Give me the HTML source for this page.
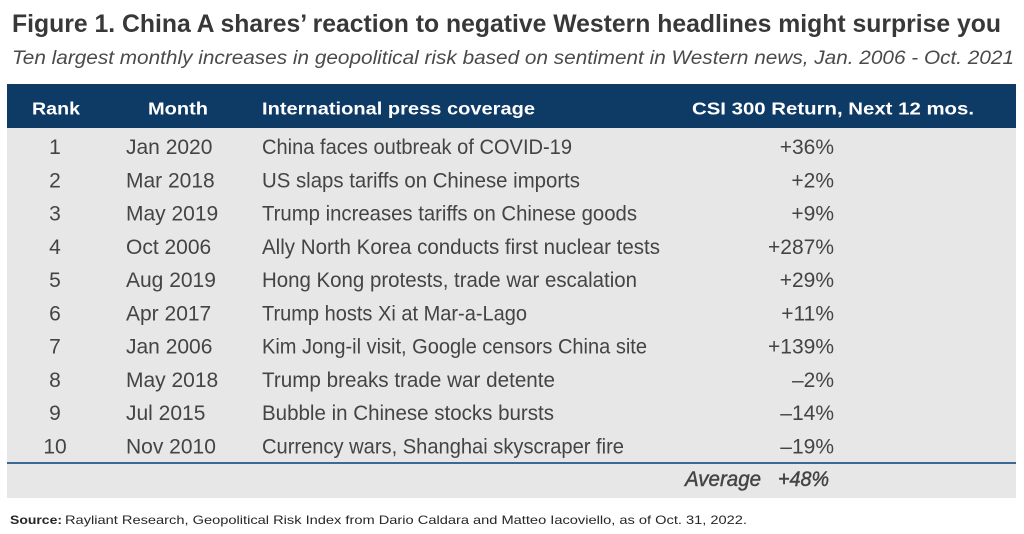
<!DOCTYPE html>
<html>
<head>
<meta charset="utf-8">
<style>
  html,body{margin:0;padding:0;background:#fff;}
  svg{display:block;}
  text{font-family:"Liberation Sans", Arial, sans-serif;}
</style>
</head>
<body>
<svg width="1024" height="534" viewBox="0 0 1024 534" xmlns="http://www.w3.org/2000/svg">
  <rect x="0" y="0" width="1024" height="534" fill="#ffffff"/>

  <!-- Title -->
  <text x="12" y="32" font-size="25" font-weight="bold" fill="#383838" textLength="989" lengthAdjust="spacingAndGlyphs">Figure 1. China A shares’ reaction to negative Western headlines might surprise you</text>
  <!-- Subtitle -->
  <text x="12" y="64" font-size="19" font-style="italic" fill="#4a4a4a" textLength="1002" lengthAdjust="spacingAndGlyphs">Ten largest monthly increases in geopolitical risk based on sentiment in Western news, Jan. 2006 - Oct. 2021</text>

  <!-- Table background -->
  <rect x="7" y="84" width="1009" height="44" fill="#0e3a66"/>
  <rect x="7" y="128" width="1009" height="370" fill="#e7e7e7"/>

  <!-- Header text -->
  <g font-size="17.5" font-weight="bold" fill="#ffffff">
    <text x="32" y="114.5" textLength="48" lengthAdjust="spacingAndGlyphs">Rank</text>
    <text x="148" y="114.5" textLength="60" lengthAdjust="spacingAndGlyphs">Month</text>
    <text x="262" y="114.5" textLength="273" lengthAdjust="spacingAndGlyphs">International press coverage</text>
    <text x="692" y="114.5" textLength="282" lengthAdjust="spacingAndGlyphs">CSI 300 Return, Next 12 mos.</text>
  </g>

  <!-- Rows -->
  <g font-size="21" fill="#444444">
    <!-- Rank -->
    <g text-anchor="middle">
      <text x="55" y="154">1</text>
      <text x="55" y="187.25">2</text>
      <text x="55" y="220.5">3</text>
      <text x="55" y="253.75">4</text>
      <text x="55" y="287">5</text>
      <text x="55" y="320.25">6</text>
      <text x="55" y="353.5">7</text>
      <text x="55" y="386.75">8</text>
      <text x="55" y="420">9</text>
      <text x="55" y="453.25">10</text>
    </g>
    <!-- Month -->
    <g>
      <text x="126" y="154">Jan 2020</text>
      <text x="126" y="187.25">Mar 2018</text>
      <text x="126" y="220.5">May 2019</text>
      <text x="126" y="253.75">Oct 2006</text>
      <text x="126" y="287">Aug 2019</text>
      <text x="126" y="320.25">Apr 2017</text>
      <text x="126" y="353.5">Jan 2006</text>
      <text x="126" y="386.75">May 2018</text>
      <text x="126" y="420">Jul 2015</text>
      <text x="126" y="453.25">Nov 2010</text>
    </g>
    <!-- Coverage -->
    <g>
      <text x="262" y="154" textLength="310" lengthAdjust="spacingAndGlyphs">China faces outbreak of COVID-19</text>
      <text x="262" y="187.25" textLength="318" lengthAdjust="spacingAndGlyphs">US slaps tariffs on Chinese imports</text>
      <text x="262" y="220.5" textLength="375" lengthAdjust="spacingAndGlyphs">Trump increases tariffs on Chinese goods</text>
      <text x="262" y="253.75" textLength="398" lengthAdjust="spacingAndGlyphs">Ally North Korea conducts first nuclear tests</text>
      <text x="262" y="287" textLength="375" lengthAdjust="spacingAndGlyphs">Hong Kong protests, trade war escalation</text>
      <text x="262" y="320.25" textLength="265" lengthAdjust="spacingAndGlyphs">Trump hosts Xi at Mar-a-Lago</text>
      <text x="262" y="353.5" textLength="385" lengthAdjust="spacingAndGlyphs">Kim Jong-il visit, Google censors China site</text>
      <text x="262" y="386.75" textLength="293" lengthAdjust="spacingAndGlyphs">Trump breaks trade war detente</text>
      <text x="262" y="420" textLength="292" lengthAdjust="spacingAndGlyphs">Bubble in Chinese stocks bursts</text>
      <text x="262" y="453.25" textLength="362" lengthAdjust="spacingAndGlyphs">Currency wars, Shanghai skyscraper fire</text>
    </g>
    <!-- Returns -->
    <g text-anchor="end">
      <text x="834" y="154">+36%</text>
      <text x="834" y="187.25">+2%</text>
      <text x="834" y="220.5">+9%</text>
      <text x="834" y="253.75">+287%</text>
      <text x="834" y="287">+29%</text>
      <text x="834" y="320.25">+11%</text>
      <text x="834" y="353.5">+139%</text>
      <text x="834" y="386.75">–2%</text>
      <text x="834" y="420">–14%</text>
      <text x="834" y="453.25">–19%</text>
    </g>
  </g>

  <!-- Divider line -->
  <rect x="7" y="462" width="1009" height="2" fill="#3d6891"/>

  <!-- Average -->
  <g font-size="21" font-style="italic" fill="#444444" stroke="#444444" stroke-width="0.45">
    <text x="685" y="486" textLength="76" lengthAdjust="spacingAndGlyphs">Average</text>
    <text x="778" y="486" textLength="51" lengthAdjust="spacingAndGlyphs">+48%</text>
  </g>

  <!-- Source -->
  <text x="10" y="524" font-size="12" font-weight="bold" fill="#262626" textLength="52" lengthAdjust="spacingAndGlyphs">Source:</text>
  <text x="65" y="524" font-size="12" fill="#262626" textLength="682" lengthAdjust="spacingAndGlyphs">Rayliant Research, Geopolitical Risk Index from Dario Caldara and Matteo Iacoviello, as of Oct. 31, 2022.</text>
</svg>
</body>
</html>
